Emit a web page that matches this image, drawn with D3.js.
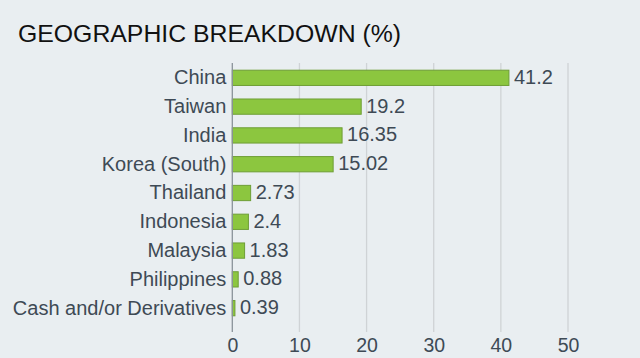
<!DOCTYPE html>
<html><head><meta charset="utf-8">
<script src="https://cdn.jsdelivr.net/npm/d3@7"></script>
<style>body{margin:0;background:#e9eef1;}svg{display:block;}</style>
</head><body>
<script>
const categories = ["China","Taiwan","India","Korea (South)","Thailand","Indonesia","Malaysia","Philippines","Cash and/or Derivatives"];
const values = [41.2,19.2,16.35,15.02,2.73,2.4,1.83,0.88,0.39];
const valueLabels = ["41.2","19.2","16.35","15.02","2.73","2.4","1.83","0.88","0.39"];
const xTicks = [0,10,20,30,40,50];
const title = "GEOGRAPHIC BREAKDOWN (%)";

const W=640,H=358;
const svg=d3.select("body").append("svg").attr("width",W).attr("height",H);
svg.append("rect").attr("width",W).attr("height",H).attr("fill","#e9eef1");
const font="Liberation Sans, Arial, sans-serif";
const textColor="#3e4a55";

svg.append("text").attr("x",18).attr("y",42).attr("font-family",font).attr("font-size",24.8)
  .attr("fill","#111").text(title);

const x=d3.scaleLinear().domain([0,50]).range([232.3,568]);
const y=d3.scaleBand().domain(categories).range([63,323]).paddingInner(0.47).paddingOuter(0.25);

// grid
const g=svg.append("g");
g.selectAll("line.grid").data(xTicks.slice(1)).join("line")
  .attr("x1",d=>x(d)).attr("x2",d=>x(d)).attr("y1",63).attr("y2",332)
  .attr("stroke","#cfd3d6").attr("stroke-width",1.3);

// bars
g.selectAll("rect.bar").data(values).join("rect")
  .attr("x",x(0)).attr("y",(d,i)=>y(categories[i]))
  .attr("width",d=>x(d)-x(0)).attr("height",y.bandwidth())
  .attr("fill","#8cc63f").attr("stroke","#6e9e35").attr("stroke-width",1);

// axis line
g.append("line").attr("x1",x(0)).attr("x2",x(0)).attr("y1",63).attr("y2",332)
  .attr("stroke","#8a9299").attr("stroke-width",1.3);

// value labels
g.selectAll("text.val").data(values).join("text")
  .attr("x",d=>x(d)+5).attr("y",(d,i)=>y(categories[i])+y.bandwidth()/2-1)
  .attr("dy","0.35em").attr("font-family",font).attr("font-size",20).attr("fill",textColor)
  .text((d,i)=>valueLabels[i]);

// y axis labels
const ya=svg.append("g").attr("transform",`translate(${x(0)},0)`)
  .call(d3.axisLeft(y).tickSize(0).tickPadding(6));
ya.select(".domain").remove();
ya.selectAll("text").attr("font-family",font).attr("font-size",20).attr("fill",textColor);

// x axis
const xa=svg.append("g").attr("transform","translate(0,334)")
  .call(d3.axisBottom(x).tickValues(xTicks).tickSize(0).tickPadding(4));
xa.select(".domain").remove();
xa.selectAll("text").attr("font-family",font).attr("font-size",19.5).attr("fill",textColor);
</script>
</body></html>
